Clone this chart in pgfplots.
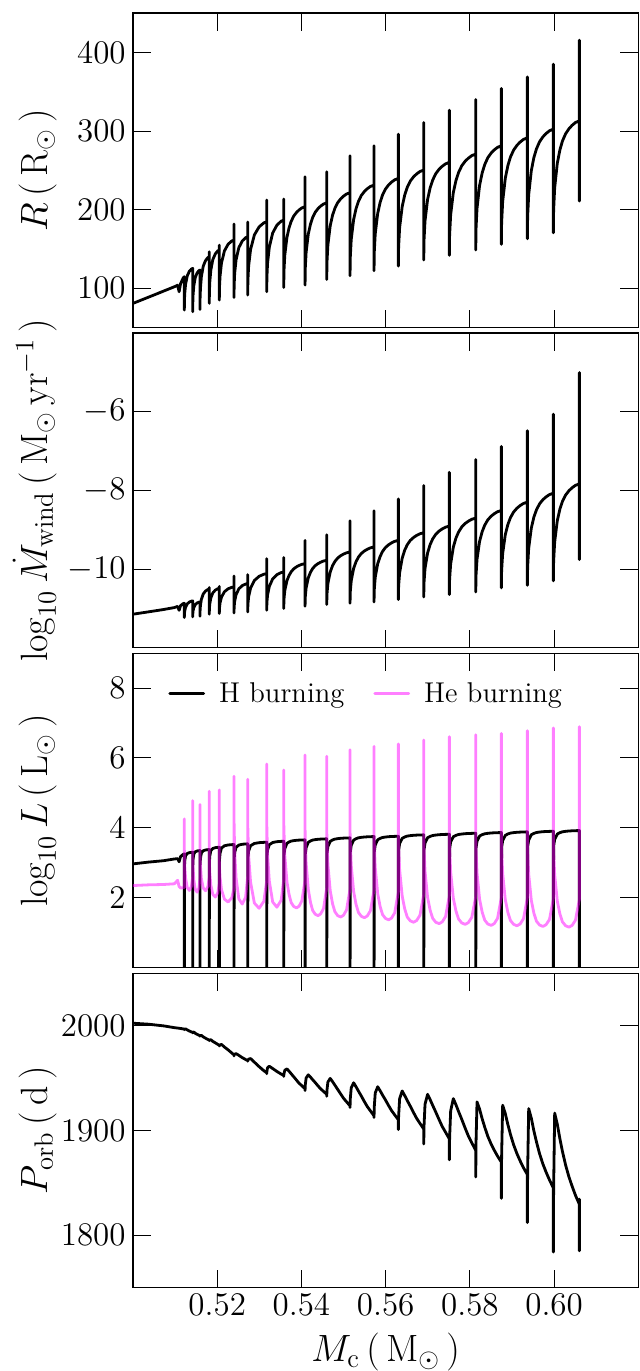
\RequirePackage{fix-cm}
\documentclass[border=0pt]{standalone}
\usepackage{pgfplots}
\usepackage{pgfplotstable}
\pgfplotsset{compat=1.18}
\definecolor{hepink}{RGB}{255,0,255}

\pgfplotstableread{
x R M H He P
0.50000 80.9 -11.148 2.97 2.35 2002.2
0.50360 88.6 -11.09 3.02 2.37 2001.3
0.50721 96.4 -11.03 3.06 2.38 1999.7
0.50980 102.0 -10.98 3.11 2.40 1998.0
0.51060 104.0 -10.95 3.12 2.50 1997.6
0.51095 95.7 -11.05 3.03 2.32 1997.4
0.51130 106.0 -10.93 3.18 2.28 1997.2
0.51190 113.0 -10.88 3.24 2.29 1996.8
0.51219 114.8 -10.87 3.26 2.30 1996.5
0.51219 114.8 -10.87 3.26 4.257 1996.5
0.51219 72.4 -11.233 -1 3.41 1996.0
0.51221 83.0 -11.148 2.853 3.21 1996.3
0.51229 93.6 -11.064 3.053 2.91 1996.6
0.51249 105.3 -10.971 3.203 2.56 1996.8
0.51289 115.9 -10.886 3.268 2.29 1995.8
0.51338 121.7 -10.840 3.291 2.21 1994.8
0.51388 124.6 -10.816 3.300 2.33 1993.9
0.51418 125.4 -10.81 3.303 2.61 1993.5
0.51418 125.4 -10.81 3.303 4.78 1993.5
0.51418 70.3 -11.216 -1 3.36 1993.0
0.51420 80.9 -11.14 2.901 3.16 1993.3
0.51427 91.5 -11.064 3.101 2.86 1993.6
0.51444 103.2 -10.98 3.251 2.51 1993.8
0.51479 113.8 -10.904 3.316 2.24 1992.6
0.51522 119.6 -10.863 3.339 2.16 1991.6
0.51565 122.5 -10.842 3.348 2.28 1990.8
0.51591 123.3 -10.836 3.351 2.56 1990.3
0.51591 123.3 -10.836 3.351 4.666 1990.3
0.51591 73.3 -11.2 -1 3.40 1989.8
0.51593 86.7 -11.062 2.93 3.2 1990.1
0.51602 100.1 -10.924 3.13 2.9 1990.4
0.51624 114.8 -10.772 3.28 2.55 1990.6
0.51668 128.2 -10.634 3.345 2.28 1989.2
0.51724 135.5 -10.558 3.368 2.2 1987.9
0.51779 139.2 -10.520 3.377 2.32 1986.7
0.51812 140.2 -10.51 3.38 2.60 1986.0
0.51812 146.5 -10.47 3.38 5.046 1986.0
0.51812 80.9 -11.148 -1 3.22 1985.5
0.51814 94.5 -11.016 2.996 3.02 1985.8
0.51824 108.0 -10.885 3.196 2.72 1986.2
0.51848 122.9 -10.740 3.346 2.37 1986.5
0.51895 136.5 -10.608 3.411 2.1 1984.9
0.51955 143.9 -10.536 3.434 2.02 1983.5
0.52014 147.7 -10.500 3.443 2.14 1982.0
0.52050 148.7 -10.49 3.446 2.42 1981.2
0.52050 155.0 -10.44 3.446 5.086 1981.2
0.52050 85.1 -11.131 -1 3.08 1980.5
0.52053 100.4 -10.996 3.073 2.88 1980.8
0.52068 115.6 -10.861 3.273 2.58 1981.5
0.52102 132.4 -10.712 3.423 2.23 1982.0
0.52172 147.7 -10.577 3.488 1.96 1979.5
0.52259 156.1 -10.502 3.511 1.88 1976.8
0.52347 160.3 -10.465 3.52 2.0 1973.8
0.52399 161.4 -10.455 3.523 2.28 1972.0
0.52399 181.7 -10.176 3.523 5.474 1972.0
0.52399 88.5 -11.115 -1 4.32 1971.0
0.52402 103.9 -10.966 3.093 4.02 1971.8
0.52415 119.3 -10.817 3.293 3.32 1972.8
0.52448 136.3 -10.653 3.443 2.57 1973.2
0.52513 151.7 -10.504 3.508 1.97 1971.6
0.52594 160.2 -10.422 3.531 1.82 1969.4
0.52675 164.4 -10.381 3.54 2.02 1967.6
0.52724 165.6 -10.37 3.543 2.62 1966.6
0.52724 184.3 -10.142 3.543 5.389 1966.6
0.52724 91.5 -11.09 -1 4.2 1966.0
0.52729 110.1 -10.895 3.139 3.9 1966.9
0.52747 128.8 -10.701 3.339 3.2 1968.0
0.52792 149.3 -10.487 3.489 2.45 1968.5
0.52882 167.9 -10.292 3.554 1.85 1965.1
0.52995 178.2 -10.185 3.577 1.70 1960.8
0.53108 183.3 -10.132 3.586 1.90 1956.9
0.53176 184.7 -10.117 3.589 2.50 1954.9
0.53176 212.2 -9.736 3.589 5.829 1954.9
0.53176 95.7 -11.047 -1 4.23 1954.0
0.53180 113.9 -10.853 3.167 3.93 1956.5
0.53196 132.1 -10.658 3.367 3.23 1959.8
0.53237 152.2 -10.444 3.517 2.48 1961.2
0.53317 170.4 -10.250 3.582 1.88 1959.0
0.53418 180.4 -10.143 3.605 1.73 1956.2
0.53519 185.4 -10.090 3.614 1.93 1953.7
0.53580 186.8 -10.075 3.617 2.53 1952.4
0.53580 213.5 -9.71 3.617 5.657 1952.4
0.53580 101.2 -11.005 -1 4.21 1951.5
0.53585 121.7 -10.777 3.207 3.91 1954.0
0.53605 142.2 -10.548 3.407 3.21 1957.3
0.53656 164.8 -10.297 3.557 2.46 1958.7
0.53707 177.1 -10.160 3.597 2.09 1956.4
0.53757 185.3 -10.069 3.622 1.86 1954.0
0.53818 192.0 -9.994 3.635 1.75 1951.1
0.53884 196.6 -9.943 3.645 1.71 1947.9
0.53944 199.7 -9.909 3.650 1.76 1945.0
0.54010 202.3 -9.880 3.654 1.91 1942.6
0.54086 203.8 -9.863 3.657 2.51 1939.7
0.54086 241.9 -9.272 3.657 6.086 1939.7
0.54086 104.2 -10.946 -1 3.99 1938.0
0.54091 125.1 -10.713 3.236 3.69 1943.3
0.54112 146.0 -10.479 3.436 2.99 1950.0
0.54163 169.1 -10.222 3.586 2.24 1953.0
0.54215 181.6 -10.082 3.626 1.87 1950.8
0.54266 190.0 -9.989 3.651 1.64 1948.4
0.54328 196.8 -9.913 3.664 1.53 1945.6
0.54395 201.5 -9.861 3.674 1.49 1942.4
0.54457 204.6 -9.826 3.679 1.54 1939.6
0.54524 207.2 -9.796 3.683 1.69 1937.2
0.54601 208.8 -9.779 3.686 2.29 1934.4
0.54601 248.2 -9.128 3.686 6.046 1934.4
0.54601 111.4 -10.9 -1 3.95 1932.5
0.54607 133.4 -10.633 3.264 3.65 1938.5
0.54629 155.5 -10.367 3.464 2.95 1946.2
0.54684 179.7 -10.074 3.614 2.20 1949.6
0.54739 193.0 -9.914 3.654 1.83 1946.5
0.54795 201.8 -9.807 3.679 1.60 1943.1
0.54861 208.9 -9.720 3.692 1.49 1939.1
0.54933 213.9 -9.660 3.702 1.45 1934.7
0.54999 217.2 -9.620 3.707 1.50 1930.7
0.55071 220.0 -9.587 3.711 1.65 1927.3
0.55154 221.6 -9.567 3.714 2.25 1923.4
0.55154 268.6 -8.773 3.714 6.237 1923.4
0.55154 116.1 -10.87 -1 3.93 1921.8
0.55160 139.1 -10.584 3.301 3.63 1930.1
0.55183 162.2 -10.298 3.501 2.93 1940.7
0.55240 187.5 -9.983 3.651 2.18 1945.4
0.55297 201.4 -9.812 3.691 1.81 1941.6
0.55354 210.6 -9.697 3.716 1.58 1937.5
0.55422 218.1 -9.604 3.729 1.47 1932.8
0.55496 223.2 -9.540 3.739 1.43 1927.4
0.55564 226.7 -9.497 3.744 1.48 1922.7
0.55639 229.6 -9.461 3.748 1.63 1918.6
0.55724 231.3 -9.44 3.751 2.23 1913.9
0.55724 281.3 -8.519 3.751 6.331 1913.9
0.55724 122.4 -10.836 -1 3.87 1912.3
0.55730 145.9 -10.523 3.310 3.57 1922.6
0.55753 169.4 -10.210 3.510 2.87 1935.7
0.55811 195.2 -9.866 3.660 2.12 1941.6
0.55869 209.3 -9.679 3.700 1.75 1937.8
0.55926 218.7 -9.553 3.725 1.52 1933.7
0.55996 226.3 -9.452 3.738 1.41 1929.0
0.56071 231.6 -9.382 3.748 1.37 1923.6
0.56140 235.1 -9.335 3.753 1.42 1918.9
0.56215 238.0 -9.295 3.757 1.57 1914.8
0.56302 239.8 -9.272 3.760 2.17 1910.1
0.56302 296.1 -8.214 3.760 6.400 1910.1
0.56302 128.3 -10.776 -1 3.80 1900.7
0.56308 152.7 -10.436 3.350 3.50 1913.6
0.56332 177.1 -10.096 3.550 2.80 1930.2
0.56393 204.0 -9.723 3.700 2.05 1937.6
0.56453 218.7 -9.519 3.740 1.68 1933.2
0.56513 228.4 -9.383 3.765 1.45 1928.5
0.56585 236.4 -9.272 3.778 1.34 1923.1
0.56664 241.9 -9.196 3.788 1.30 1916.9
0.56736 245.5 -9.145 3.793 1.35 1911.5
0.56815 248.6 -9.102 3.797 1.50 1906.7
0.56905 250.4 -9.077 3.800 2.10 1901.3
0.56905 311.0 -7.877 3.800 6.514 1901.3
0.56905 136.0 -10.709 -1 3.76 1887.1
0.56911 160.8 -10.349 3.367 3.46 1903.7
0.56935 185.7 -9.989 3.567 2.76 1924.9
0.56996 213.0 -9.592 3.717 2.01 1934.4
0.57057 227.9 -9.376 3.757 1.64 1929.3
0.57118 237.8 -9.232 3.782 1.41 1923.8
0.57191 245.9 -9.115 3.795 1.30 1917.4
0.57270 251.5 -9.034 3.805 1.26 1910.2
0.57343 255.2 -8.980 3.810 1.31 1903.8
0.57422 258.3 -8.935 3.814 1.46 1898.3
0.57513 260.2 -8.908 3.817 2.06 1891.9
0.57513 326.6 -7.539 3.817 6.609 1891.9
0.57513 141.9 -10.649 -1 3.74 1872.0
0.57519 167.7 -10.260 3.396 3.44 1892.4
0.57544 193.4 -9.871 3.596 2.74 1918.6
0.57607 221.8 -9.444 3.746 1.99 1930.3
0.57670 237.2 -9.210 3.786 1.62 1924.4
0.57733 247.5 -9.055 3.811 1.39 1917.9
0.57808 255.9 -8.929 3.824 1.28 1910.5
0.57889 261.7 -8.841 3.834 1.24 1902.1
0.57964 265.5 -8.783 3.839 1.29 1894.7
0.58046 268.8 -8.734 3.843 1.44 1888.2
0.58140 270.7 -8.705 3.846 2.04 1880.8
0.58140 340.2 -7.217 3.846 6.666 1880.8
0.58140 148.7 -10.582 -1 3.71 1855.5
0.58146 175.2 -10.168 3.416 3.41 1887.8
0.58170 201.7 -9.754 3.616 2.71 1927.2
0.58231 230.9 -9.298 3.766 1.96 1920.3
0.58292 246.8 -9.049 3.806 1.59 1911.1
0.58353 257.4 -8.884 3.831 1.36 1903.1
0.58426 266.1 -8.749 3.844 1.25 1894.4
0.58505 272.0 -8.656 3.854 1.21 1887.0
0.58578 276.0 -8.594 3.859 1.26 1881.2
0.58657 279.3 -8.542 3.863 1.41 1875.5
0.58748 281.3 -8.511 3.866 2.01 1869.7
0.58748 354.2 -6.879 3.866 6.703 1869.7
0.58748 155.9 -10.481 -1 3.70 1835.1
0.58754 183.0 -10.045 3.436 3.40 1875.1
0.58779 210.1 -9.608 3.636 2.70 1924.0
0.58841 239.9 -9.128 3.786 1.95 1916.1
0.58903 256.2 -8.866 3.826 1.58 1905.5
0.58964 267.0 -8.692 3.851 1.35 1896.2
0.59039 275.8 -8.550 3.864 1.24 1886.3
0.59119 281.9 -8.452 3.874 1.20 1877.7
0.59193 286.0 -8.386 3.879 1.25 1871.0
0.59273 289.4 -8.332 3.883 1.40 1864.4
0.59366 291.4 -8.299 3.886 2.00 1857.8
0.59366 369.0 -6.482 3.886 6.780 1857.8
0.59366 163.1 -10.413 -1 3.68 1812.0
0.59372 191.0 -9.945 3.453 3.38 1861.0
0.59397 218.9 -9.476 3.653 2.68 1920.8
0.59459 249.5 -8.961 3.803 1.93 1911.7
0.59520 266.3 -8.680 3.843 1.56 1899.6
0.59582 277.4 -8.493 3.868 1.33 1889.0
0.59656 286.5 -8.340 3.881 1.22 1877.7
0.59736 292.7 -8.235 3.891 1.18 1867.8
0.59810 296.9 -8.165 3.896 1.23 1860.2
0.59891 300.4 -8.106 3.900 1.38 1852.7
0.59983 302.5 -8.071 3.903 1.98 1845.1
0.59983 385.1 -6.059 3.903 6.857 1845.1
0.59983 170.7 -10.303 -1 3.66 1784.0
0.59989 199.2 -9.809 3.473 3.36 1843.6
0.60014 227.6 -9.315 3.673 2.66 1916.5
0.60076 258.9 -8.772 3.823 1.91 1906.0
0.60138 276.0 -8.476 3.863 1.54 1892.1
0.60199 287.4 -8.278 3.888 1.31 1879.9
0.60274 296.6 -8.118 3.901 1.20 1866.9
0.60354 303.0 -8.007 3.911 1.16 1855.5
0.60428 307.3 -7.933 3.916 1.21 1846.8
0.60508 310.9 -7.871 3.920 1.36 1838.1
0.60601 313.0 -7.834 3.923 1.96 1829.4
0.60601 415.6 -5.003 3.923 6.894 1834.5
0.60601 211.0 -9.762 -1 6.894 1785.2
}\datatab

\begin{document}
\begin{tikzpicture}
\pgfplotsset{
  panel/.style={
    scale only axis, width=252.65pt, height=157.3pt,
    xmin=0.50, xmax=0.62,
    xtick={0.52,0.54,0.56,0.58,0.60},
    tick align=inside, xtick pos=both, ytick pos=both,
    major tick length=9pt,
    every tick/.style={black, line width=0.5pt},
    axis line style={line width=0.6pt},
    tick label style={font=\fontsize{16.5}{19}\selectfont},
    xticklabel style={inner sep=0pt, yshift=-3.3pt,
      /pgf/number format/.cd, fixed, fixed zerofill, precision=2},
    yticklabel style={inner sep=0pt, xshift=-3.5pt,
      /pgf/number format/.cd, fixed, set thousands separator={}},
    label style={font=\fontsize{19}{23}\selectfont},
    ylabel style={at={(axis description cs:-0.1504,0.5)}, anchor=south, inner sep=0pt},
    clip=true,
  },
  curve/.style={black, line width=1.4pt, line join=round, line cap=round},
}
% panel 1: radius
\begin{axis}[panel, at={(0,480pt)}, anchor=south west,
  ymin=50, ymax=450, ytick={100,200,300,400}, xticklabels={},
  ylabel={$R\,(\,\mathrm{R}_{\odot}\,)$}]
  \addplot[curve] table[x=x, y=R] {\datatab};
\end{axis}
% panel 2: wind mass loss
\begin{axis}[panel, at={(0,320pt)}, anchor=south west,
  ymin=-12, ymax=-4, ytick={-10,-8,-6}, xticklabels={},
  ylabel={$\log_{10}\dot{M}_{\mathrm{wind}}\,(\,\mathrm{M}_{\odot}\,\mathrm{yr}^{-1}\,)$}]
  \addplot[curve] table[x=x, y=M] {\datatab};
\end{axis}
% panel 3: luminosities
\begin{axis}[panel, at={(0,160pt)}, anchor=south west,
  ymin=0, ymax=9, ytick={2,4,6,8}, xticklabels={},
  ylabel={$\log_{10}L\,(\,\mathrm{L}_{\odot}\,)$},
  legend style={draw=none, fill=none, inner sep=0pt, at={(axis cs:0.5083,7.84)}, anchor=west,
    font=\fontsize{14.3}{17}\selectfont,
    /tikz/every odd column/.append style={column sep=5pt},
    /tikz/every even column/.append style={column sep=12.5pt}},
  legend columns=2,
  legend image code/.code={\draw[#1] (0pt,0pt) -- (17pt,0pt);}]
  \addplot[curve] table[x=x, y=H] {\datatab};
  \addlegendentry{H burning}
  \addplot[hepink, line width=1.4pt, line join=round, line cap=round, opacity=0.5] table[x=x, y=He] {\datatab};
  \addlegendentry{He burning}
\end{axis}
% panel 4: orbital period
\begin{axis}[panel, at={(0,0pt)}, anchor=south west,
  ymin=1750, ymax=2050, ytick={1800,1900,2000},
  ylabel={$P_{\mathrm{orb}}\,(\,\mathrm{d}\,)$},
  xlabel={$M_{\mathrm{c}}\,(\,\mathrm{M}_{\odot}\,)$},
  xlabel style={at={(axis description cs:0.5,-0.1437)}, anchor=north, inner sep=0pt}]
  \addplot[curve] table[x=x, y=P] {\datatab};
\end{axis}
\pgfresetboundingbox
\useasboundingbox (-66.5pt,-41.65pt) rectangle (253.5pt,643.85pt);
\end{tikzpicture}
\end{document}
